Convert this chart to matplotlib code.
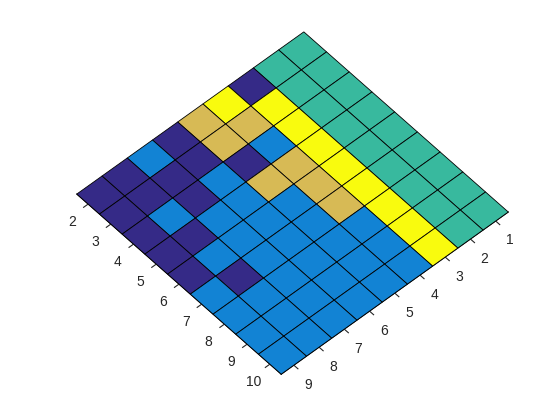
import numpy as np
import matplotlib
matplotlib.use("Agg")
import matplotlib.pyplot as plt
from matplotlib.colors import ListedColormap

#-----------------------------------------------------------------------------
# data: 9x9 grid of class levels (rows -> left axis 2..10, cols -> right axis 1..9)
row_ticks = [2, 3, 4, 5, 6, 7, 8, 9, 10]
col_ticks = [1, 2, 3, 4, 5, 6, 7, 8, 9]
levels = np.array([
    [2, 2, 0, 4, 3, 0, 1, 0, 0],
    [2, 2, 4, 3, 3, 0, 0, 0, 0],
    [2, 2, 4, 1, 0, 1, 0, 1, 0],
    [2, 2, 4, 3, 3, 1, 1, 0, 0],
    [2, 2, 4, 3, 1, 1, 1, 1, 0],
    [2, 2, 4, 3, 1, 1, 1, 0, 1],
    [2, 2, 4, 1, 1, 1, 1, 1, 1],
    [2, 2, 4, 1, 1, 1, 1, 1, 1],
    [2, 2, 4, 1, 1, 1, 1, 1, 1],
])
level_colors = ['#352a87', '#1283d4', '#38b99e', '#d7ba55', '#f9fb0e']

#-----------------------------------------------------------------------------
fig = plt.figure(figsize=(5.6, 4.2), dpi=100)
ax = fig.add_axes([0.0306, 0.022, 0.964, 0.964], projection='3d', proj_type='ortho')

xe = np.arange(col_ticks[0] - 0.5, col_ticks[-1] + 1)
ye = np.arange(row_ticks[0] - 0.5, row_ticks[-1] + 1)
X, Y = np.meshgrid(xe, ye)
Z = np.zeros_like(X)
cmap = ListedColormap(level_colors)
fc = cmap(levels)

surf = ax.plot_surface(X, Y, Z, facecolors=fc, edgecolor='k', linewidth=0.6,
                       shade=False, rstride=1, cstride=1, antialiased=True)
surf.set_clip_on(False)

ax.view_init(elev=52.5, azim=48)
ax.set_xlim(xe[0], xe[-1], view_margin=0)
ax.set_ylim(ye[0], ye[-1], view_margin=0)
ax.set_zlim(0, 1, view_margin=0)
ax.set_box_aspect((1, 1, 0.002), zoom=1.036)

ax.set_xticks(col_ticks)
ax.set_yticks(row_ticks)
ax.set_zticks([])
ax.grid(False)
# ticks drawn both ways; the inner half is covered by the surface
for axis in (ax.xaxis, ax.yaxis, ax.zaxis):
    axis.set_pane_color((1, 1, 1, 0))
    axis._axinfo['tick']['inward_factor'] = 0.25
    axis._axinfo['tick']['outward_factor'] = 0.25
    axis._axinfo['tick']['linewidth'] = {True: 0.8, False: 0.5}
    axis._axinfo['tick']['color'] = '#262626'
    axis._axinfo['axisline']['color'] = 'k'
ax.zaxis.line.set_color((0, 0, 0, 0))
ax.tick_params(axis='both', labelsize=10, colors='#262626', pad=2.5)
for lab in ax.get_xticklabels() + ax.get_yticklabels():
    lab.set_fontfamily('Liberation Sans')

fig.savefig("out.png", dpi=100)
